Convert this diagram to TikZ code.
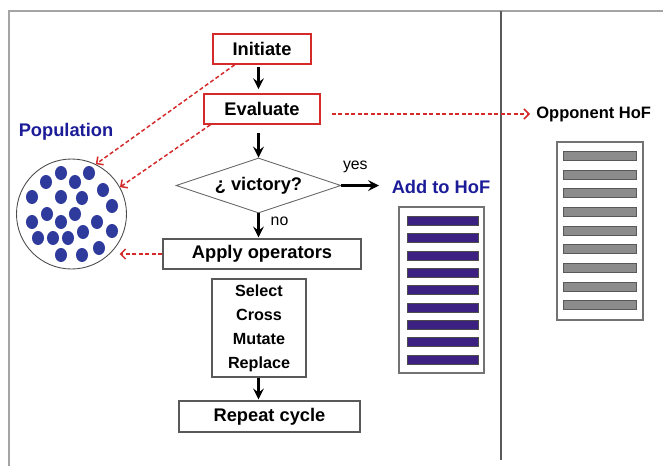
\documentclass[tikz,border=0pt]{standalone}
\usepackage{fontspec}
\setmainfont{Liberation Sans}
\usetikzlibrary{shapes.geometric}
\usetikzlibrary{arrows.meta}

\definecolor{popblue}{HTML}{1C1C98}
\definecolor{dotblue}{HTML}{2E3A9C}
\definecolor{hofpurple}{HTML}{3C2183}
\definecolor{linkred}{HTML}{D42A2A}
\definecolor{framegray}{HTML}{A4A4A4}

\begin{document}
\begin{tikzpicture}[font = \fontsize{10.4}{12.5}\selectfont\bfseries,
  box/.style = {draw = black!65, line width = 0.6pt, minimum height = 0.6cm,
    inner sep = 0},
  redbox/.style = {draw = linkred, line width = 0.9pt, minimum height = 0.6cm,
    inner sep = 0},
  flow/.style = {line width = 1.7pt, -stealth},
  link/.style = {linkred, line width = 0.85pt,
    dash pattern = on 0.08cm off 0.05cm,
    -{Straight Barb[length = 0.1cm, width = 0.2cm]}},
  smalltxt/.style = {font = \fontsize{9}{11}\selectfont},
  hofbox/.style = {draw = black!55, line width = 0.6pt}]
  \useasboundingbox (0, 0) rectangle (13.26cm, -9.32cm);

  \draw[framegray, line width = 0.9pt] (0.18cm, -9.32cm) -- (0.18cm, -0.22cm)
  -- (13.26cm, -0.22cm);
  \draw[black!65, line width = 1.2pt] (10.02cm, -0.22cm) -- (10.02cm, -9.2cm);

  \node[redbox, minimum width = 1.96cm] (init) at (5.24cm, -0.98cm) {Initiate};
  \node[redbox, minimum width = 2.32cm] (eval) at (5.24cm, -2.18cm) {Evaluate};
  \node[draw = black!60, line width = 0.5pt, diamond, aspect = 3,
  minimum width = 3.3cm, minimum height = 1.1cm, inner sep = 0] (vict) at
  (5.17cm, -3.71cm) {¿ victory?};
  \node[box, minimum width = 3.96cm] (apply) at (5.24cm, -5.08cm)
  {Apply operators};
  \node[box, minimum width = 1.88cm, minimum height = 1.96cm, align = center,
  font = \fontsize{9.2}{13.6}\selectfont\bfseries] (ops) at (5.18cm, -6.56cm)
  {Select\\Cross\\Mutate\\Replace};
  \node[box, minimum width = 3.62cm, minimum height = 0.62cm] (repeat) at
  (5.39cm, -8.33cm) {Repeat cycle};

  \draw[flow, shorten < = 0.04cm, shorten > = 0.08cm] (init.south -| vict.north)
  -- (eval.north -| vict.north);
  \draw[flow, shorten < = 0.16cm] (eval.south -| vict.north) -- (vict.north);
  \draw[flow, shorten > = 0.02cm] (vict.south) -- (apply.north -| vict.south)
  node[pos = 0.3, xshift = 0.42cm, smalltxt] {no};
  \draw[flow, shorten > = 0.02cm] (ops.south -| vict.south)
  -- (repeat.north -| vict.south);

  \coordinate (yesend) at (7.58cm, -3.71cm);
  \draw[flow] (vict.east) -- (yesend) node[pos = 0.37, yshift = 0.38cm,
  smalltxt] {yes};

  \node[text = popblue] (poplabel) at (1.32cm, -2.64cm) {Population};
  \node[draw = black!70, line width = 0.5pt, circle, minimum size = 2.2cm,
  inner sep = 0] (pop) at (1.43cm, -4.28cm) {};
  \foreach \x/\y in {0.92/-3.64, 1.22/-3.46, 1.50/-3.64, 1.78/-3.46,
    2.06/-3.80, 0.64/-3.94, 1.22/-3.94, 1.64/-3.96, 2.24/-4.12, 0.94/-4.28,
    1.50/-4.28, 0.64/-4.44, 1.22/-4.44, 1.94/-4.44, 2.24/-4.62, 1.66/-4.64,
    0.76/-4.76, 1.06/-4.76, 1.36/-4.76, 1.22/-5.10, 1.64/-5.10, 1.98/-4.96}
  \fill[dotblue] (\x, \y) ellipse[x radius = 0.12cm, y radius = 0.14cm];

  \node[anchor = west, inner sep = 0.12cm,
  font = \fontsize{9.4}{11}\selectfont\bfseries] (opp) at (10.6cm, -2.28cm)
  {Opponent HoF};

  \draw[link] (init.210) -- (pop.64);
  \draw[link] (eval.197) -- (pop.29);
  \draw[link] (apply.west) -- (apply.west -| pop.-30);
  \draw[link] ([shift = {(0.22cm, -0.1cm)}]eval.east) -- (opp.west);

  \node[text = popblue] (addhof) at (8.82cm, -3.74cm) {Add to HoF};
  \node[hofbox, minimum width = 1.7cm, minimum height = 3.32cm] (hof) at
  (8.83cm, -5.8cm) {};
  \foreach \k in {0,...,8}
  \filldraw[fill = hofpurple, draw = black!70, line width = 0.4pt]
  ({8.14cm}, {-4.33cm - 0.346cm*\k}) rectangle +(1.42cm, -0.18cm);

  \node[hofbox, minimum width = 1.72cm, minimum height = 3.56cm] (opphof) at
  (12.0cm, -4.62cm) {};
  \foreach \k in {0,...,8}
  \filldraw[fill = black!45, draw = black!65, line width = 0.4pt]
  ({11.26cm}, {-3.03cm - 0.373cm*\k}) rectangle +(1.46cm, -0.18cm);
\end{tikzpicture}
\end{document}
